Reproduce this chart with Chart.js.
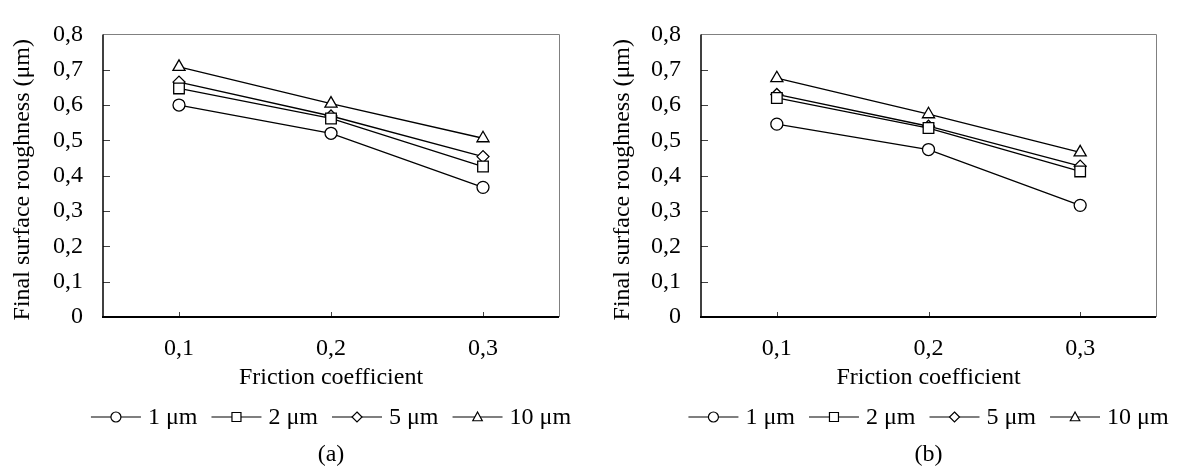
<!DOCTYPE html>
<html>
<head>
<meta charset="utf-8">
<script src="https://cdn.jsdelivr.net/npm/chart.js@4"></script>
<style>
  html, body { margin: 0; padding: 0; background: #fff; }
  .panel { position: absolute; top: 0; height: 468px; }
  #wrapA { left: 0; width: 590px; }
  #wrapB { left: 590px; width: 589px; }
</style>
</head>
<body>
<div class="panel" id="wrapA"><canvas id="chartA"></canvas></div>
<div class="panel" id="wrapB"><canvas id="chartB"></canvas></div>
<script>
// Data
const categories = ["0,1", "0,2", "0,3"];
const seriesNames = ["1 μm", "2 μm", "5 μm", "10 μm"];
const yTickLabels = ["0", "0,1", "0,2", "0,3", "0,4", "0,5", "0,6", "0,7", "0,8"];

// (a)
const a1 = [0.600, 0.520, 0.367];
const a2 = [0.647, 0.562, 0.426];
const a5 = [0.665, 0.569, 0.454];
const a10 = [0.708, 0.604, 0.506];

// (b)
const b1 = [0.546, 0.474, 0.316];
const b2 = [0.620, 0.535, 0.412];
const b5 = [0.630, 0.540, 0.427];
const b10 = [0.676, 0.574, 0.466];

const FONT_FAMILY = "'Liberation Serif', 'Times New Roman', serif";
const FONT_SIZE = 24;
const pointStyles = ["circle", "rect", "rectRot", "triangle"];
const pointRadii = [6, 7.5, 6, 7];

// Small helper for the legend markers
function drawMarker(ctx, style, r, x, y) {
  ctx.beginPath();
  if (style === "circle") {
    ctx.arc(x, y, r, 0, Math.PI * 2);
  } else if (style === "rect") {
    ctx.rect(x - r, y - r, 2 * r, 2 * r);
  } else if (style === "rectRot") {
    ctx.moveTo(x, y - r); ctx.lineTo(x + r, y); ctx.lineTo(x, y + r); ctx.lineTo(x - r, y);
    ctx.closePath();
  } else {
    ctx.moveTo(x, y - r); ctx.lineTo(x + r * 0.95, y + r * 0.75); ctx.lineTo(x - r * 0.95, y + r * 0.75);
    ctx.closePath();
  }
  ctx.fillStyle = "#fff";
  ctx.fill();
  ctx.stroke();
}

// Frame, inward ticks, titles, legend and caption
const framePlugin = {
  id: "frame",
  afterDraw(chart, args, opts) {
    const { ctx, chartArea: a, scales } = chart;
    const x = scales.x, y = scales.y;
    ctx.save();

    // top and right edges
    ctx.strokeStyle = "#808080";
    ctx.lineWidth = 1;
    ctx.beginPath();
    ctx.moveTo(a.left, Math.round(a.top) + 0.5);
    ctx.lineTo(Math.round(a.right) + 0.5, Math.round(a.top) + 0.5);
    ctx.lineTo(Math.round(a.right) + 0.5, a.bottom);
    ctx.stroke();

    // inward tick marks
    ctx.strokeStyle = "#404040";
    ctx.beginPath();
    y.ticks.forEach((t) => {
      if (t.value <= 0 || t.value >= 0.8) return;
      const py = Math.round(y.getPixelForValue(t.value)) + 0.5;
      ctx.moveTo(a.left, py);
      ctx.lineTo(a.left + 7, py);
    });
    x.ticks.forEach((t, i) => {
      const px = Math.round(x.getPixelForTick(i)) + 0.5;
      ctx.moveTo(px, a.bottom);
      ctx.lineTo(px, a.bottom - 5);
    });
    ctx.stroke();

    // axes
    ctx.strokeStyle = "#000";
    ctx.lineWidth = 1.5;
    ctx.beginPath();
    ctx.moveTo(a.left, a.top);
    ctx.lineTo(a.left, a.bottom);
    ctx.stroke();
    ctx.lineWidth = 2;
    ctx.beginPath();
    ctx.moveTo(a.left - 1, a.bottom);
    ctx.lineTo(a.right, a.bottom);
    ctx.stroke();

    // titles
    const cx = (a.left + a.right) / 2;
    ctx.fillStyle = "#000";
    ctx.font = FONT_SIZE + "px " + FONT_FAMILY;
    ctx.textAlign = "center";
    ctx.textBaseline = "middle";
    ctx.fillText("Friction coefficient", cx, opts.xTitleY);
    ctx.fillText(opts.caption, cx, opts.captionY);

    ctx.save();
    ctx.translate(opts.yTitleX, (a.top + a.bottom) / 2 + 4);
    ctx.rotate(-Math.PI / 2);
    ctx.fillText("Final surface roughness (μm)", 0, 0);
    ctx.restore();

    // legend: line - marker - line, then text
    const symW = 50, gapText = 7, gapItem = 14;
    const widths = seriesNames.map((n) => ctx.measureText(n).width);
    let total = 0;
    widths.forEach((w, i) => { total += symW + gapText + w + (i < widths.length - 1 ? gapItem : 0); });
    let lx = cx - total / 2;
    const ly = opts.legendY;
    ctx.textAlign = "left";
    seriesNames.forEach((n, i) => {
      ctx.strokeStyle = "#000";
      ctx.lineWidth = 1.2;
      ctx.beginPath();
      ctx.moveTo(lx, ly);
      ctx.lineTo(lx + symW, ly);
      ctx.stroke();
      drawMarker(ctx, pointStyles[i], i === 1 ? 4.5 : 5, lx + symW / 2, ly);
      ctx.fillStyle = "#000";
      ctx.fillText(n, lx + symW + gapText, ly + 1);
      lx += symW + gapText + widths[i] + gapItem;
    });

    ctx.restore();
  },
};

function makeChart(id, seriesList, layout) {
  const datasets = seriesList.map((data, i) => ({
    label: seriesNames[i],
    data: data,
    borderColor: "#000",
    borderWidth: 1.3,
    pointStyle: pointStyles[i],
    pointRadius: pointRadii[i],
    pointBackgroundColor: "#fff",
    pointBorderColor: "#000",
    pointBorderWidth: 1.3,
    fill: false,
    tension: 0,
  }));

  return new Chart(document.getElementById(id), {
    type: "line",
    data: { labels: categories, datasets: datasets },
    plugins: [framePlugin],
    options: {
      responsive: true,
      maintainAspectRatio: false,
      animation: false,
      events: [],
      layout: { padding: { left: 0, right: layout.padRight, top: 20, bottom: 0 } },
      plugins: {
        legend: { display: false },
        tooltip: { enabled: false },
        frame: layout,
      },
      scales: {
        x: {
          offset: true,
          grid: { display: false, drawTicks: false },
          border: { display: false },
          ticks: {
            color: "#000",
            padding: 17,
            font: { family: FONT_FAMILY, size: FONT_SIZE },
          },
          afterFit: (s) => { s.height = 151; },
        },
        y: {
          min: 0,
          max: 0.8,
          grid: { display: false, drawTicks: false },
          border: { display: false },
          ticks: {
            stepSize: 0.1,
            color: "#000",
            padding: 20,
            font: { family: FONT_FAMILY, size: FONT_SIZE },
            callback: (value, index) => yTickLabels[index],
          },
          afterFit: (s) => { s.width = layout.axisWidth; },
        },
      },
    },
  });
}

makeChart("chartA", [a1, a2, a5, a10], {
  axisWidth: 103, padRight: 31, yTitleX: 23, xTitleY: 378, legendY: 417, captionY: 455, caption: "(a)",
});
makeChart("chartB", [b1, b2, b5, b10], {
  axisWidth: 111, padRight: 23, yTitleX: 33, xTitleY: 378, legendY: 417, captionY: 455, caption: "(b)",
});
</script>
</body>
</html>
